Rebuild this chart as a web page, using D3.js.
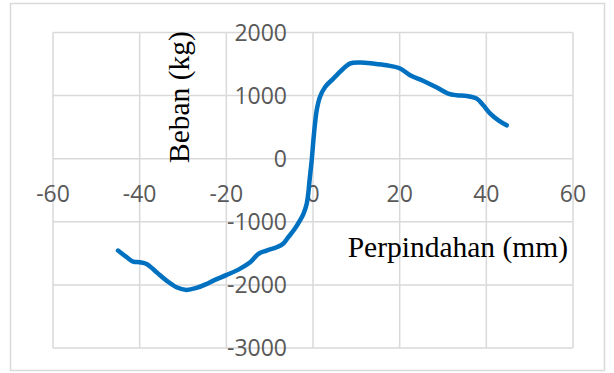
<!DOCTYPE html>
<html>
<head>
<meta charset="utf-8">
<script src="https://cdn.jsdelivr.net/npm/d3@7"></script>
<style>
  body { margin: 0; background: #fff; }
  svg { display: block; }
</style>
</head>
<body>
<svg id="chart" width="614" height="373"></svg>
<script>
// displacement (mm) vs load (kg)
const displacement = [-45, -43, -41.5, -40, -38.4, -36.1, -33.8, -31.5, -29.2, -26.9, -24.5, -23, -19.9, -16.9, -14.5, -12.6, -10.7, -8.4, -6.9, -5.7, -4.2, -3, -2.2, -1.45, -1.1, -0.8, -0.3, 0.23, 0.85, 1.6, 2.8, 4.7, 6.6, 8.5, 10.9, 13.9, 17, 20.1, 22.4, 25.5, 28.6, 31.2, 33.2, 35.5, 37.8, 39.3, 40.9, 42.8, 44.7];
const load = [-1456, -1560, -1630, -1641, -1667, -1800, -1932, -2038, -2079, -2048, -1984, -1932, -1841, -1746, -1641, -1508, -1456, -1403, -1349, -1244, -1111, -978, -873, -714, -556, -344, -27, 397, 767, 978, 1137, 1270, 1402, 1508, 1524, 1508, 1481, 1429, 1322, 1232, 1127, 1032, 1005, 994, 952, 846, 714, 608, 529];

const xTicks = [-60, -40, -20, 0, 20, 40, 60];
const yTicks = [-3000, -2000, -1000, 0, 1000, 2000];

const svg = d3.select("#chart");
const plotLeft = 53, plotRight = 573, plotTop = 32.5, plotBottom = 348;

const x = d3.scaleLinear().domain([-60, 60]).range([plotLeft, plotRight]);
const y = d3.scaleLinear().domain([-3000, 2000]).range([plotBottom, plotTop]);

// chart border
svg.append("rect")
  .attr("x", 10.5).attr("y", 3.5)
  .attr("width", 594).attr("height", 367)
  .attr("fill", "none").attr("stroke", "#d9d9d9").attr("stroke-width", 1.5);

// gridlines
svg.append("g").selectAll("line").data(xTicks).join("line")
  .attr("x1", (d) => x(d)).attr("x2", (d) => x(d))
  .attr("y1", plotTop).attr("y2", plotBottom)
  .attr("stroke", "#d9d9d9").attr("stroke-width", 1.5);

svg.append("g").selectAll("line").data(yTicks).join("line")
  .attr("x1", plotLeft).attr("x2", plotRight)
  .attr("y1", (d) => y(d)).attr("y2", (d) => y(d))
  .attr("stroke", "#d9d9d9").attr("stroke-width", 1.5);

// tick labels
const tickFont = "'Open Sans', sans-serif";
svg.append("g").selectAll("text").data(xTicks).join("text")
  .attr("x", (d) => x(d)).attr("y", 202)
  .attr("text-anchor", "middle")
  .attr("font-family", tickFont).attr("font-size", 23)
  .attr("fill", "#595959")
  .text((d) => d);

svg.append("g").selectAll("text").data(yTicks).join("text")
  .attr("x", 287).attr("y", (d) => y(d))
  .attr("dy", "0.35em")
  .attr("text-anchor", "end")
  .attr("font-family", tickFont).attr("font-size", 23)
  .attr("fill", "#595959")
  .text((d) => d);

// curve
const pts = displacement.map((d, i) => [d, load[i]]);
const line = d3.line()
  .x((d) => x(d[0]))
  .y((d) => y(d[1]))
  .curve(d3.curveCatmullRom.alpha(0.5));

svg.append("path")
  .datum(pts)
  .attr("d", line)
  .attr("fill", "none")
  .attr("stroke", "#0070c0")
  .attr("stroke-width", 4.5)
  .attr("stroke-linecap", "round")
  .attr("stroke-linejoin", "round");

// axis titles
svg.append("text")
  .attr("transform", "translate(189,163) rotate(-90)")
  .attr("font-family", "'Liberation Serif', 'Times New Roman', serif")
  .attr("font-size", 29.5)
  .attr("fill", "#000")
  .text("Beban (kg)");

svg.append("text")
  .attr("x", 568).attr("y", 257)
  .attr("text-anchor", "end")
  .attr("font-family", "'Liberation Serif', 'Times New Roman', serif")
  .attr("font-size", 29.5)
  .attr("fill", "#000")
  .text("Perpindahan (mm)");
</script>
</body>
</html>
